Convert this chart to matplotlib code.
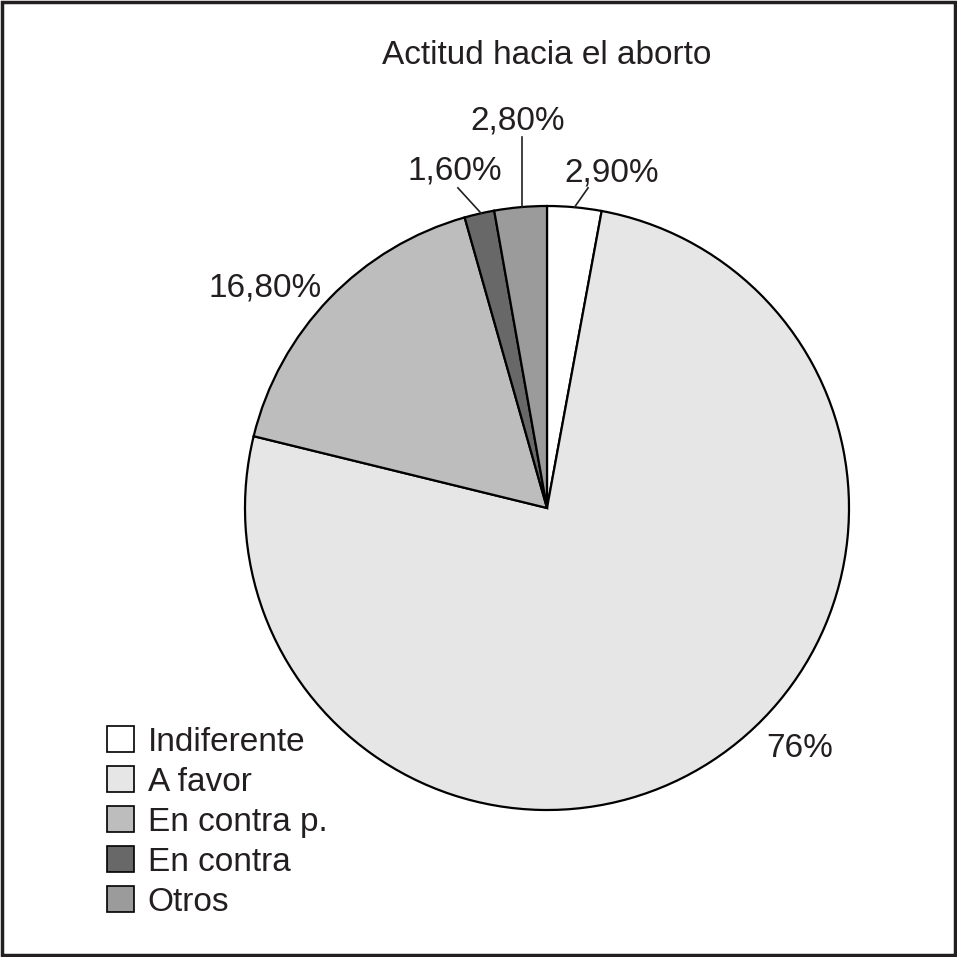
import numpy as np
import matplotlib.pyplot as plt
from matplotlib.patches import Rectangle

plt.rcParams['font.family'] = ['Liberation Sans', 'DejaVu Sans']

# datos
categorias = ['Indiferente', 'A favor', 'En contra p.', 'En contra', 'Otros']
porcentajes = [2.9, 76.0, 16.8, 1.6, 2.8]
etiquetas = ['2,90%', '76%', '16,80%', '1,60%', '2,80%']
colores = ['#ffffff', '#e6e6e6', '#bdbdbd', '#686868', '#9b9b9b']

W, H = 957, 957
cx, cy, R = 547, 508, 302  # centro y radio de la tarta en pixeles

fig = plt.figure(figsize=(W / 100, H / 100), dpi=100)
ax = fig.add_axes([0, 0, 1, 1])

wedges, _ = ax.pie(porcentajes, colors=colores, startangle=90, counterclock=False,
                   radius=1, center=(0, 0), frame=True,
                   wedgeprops=dict(edgecolor='black', linewidth=1.6))
ax.set_xlim(-cx / R, (W - cx) / R)
ax.set_ylim(-(H - cy) / R, cy / R)
ax.set_aspect('equal')
ax.axis('off')

# posicion de las etiquetas (unidades de radio) y fin de la linea guia
pos_etq = [(0.215, 1.109), (0.838, -0.796), (-0.934, 0.728),
           (-0.305, 1.116), (-0.096, 1.283)]
fin_linea = [(0.136, 1.060), None, None, (-0.295, 1.060), (None, 1.228)]

ang = 90.0
for p, txt, (tx, ty), fl in zip(porcentajes, etiquetas, pos_etq, fin_linea):
    medio = ang - p * 3.6 / 2
    ang -= p * 3.6
    ax.text(tx, ty, txt, ha='center', va='center', fontsize=24, color='#231f20')
    if fl is not None:
        x0, y0 = np.cos(np.radians(medio)), np.sin(np.radians(medio))
        x1 = x0 if fl[0] is None else fl[0]
        ax.plot([x0, x1], [y0, fl[1]], color='#231f20', lw=1.2)

fig.text(547 / W, 1 - 55 / H, 'Actitud hacia el aborto', ha='center', va='center',
         fontsize=24, color='#231f20')

leg = fig.legend(wedges, categorias, loc='upper left',
                 bbox_to_anchor=(107 / W, 1 - 726 / H), frameon=False,
                 fontsize=24, handlelength=0.82, handleheight=0.82,
                 handletextpad=0.40, labelspacing=0.255, borderpad=0,
                 borderaxespad=0)
for t in leg.get_texts():
    t.set_color('#231f20')
for h in leg.legend_handles:
    h.set_linewidth(1.2)
    h.set_edgecolor('black')

fig.patches.append(Rectangle((1.5 / W, 2.5 / H), (W - 4) / W, (H - 4) / H,
                             transform=fig.transFigure, fill=False,
                             edgecolor='#231f20', linewidth=2.5))

fig.savefig('out.png', dpi=100, facecolor='white')
